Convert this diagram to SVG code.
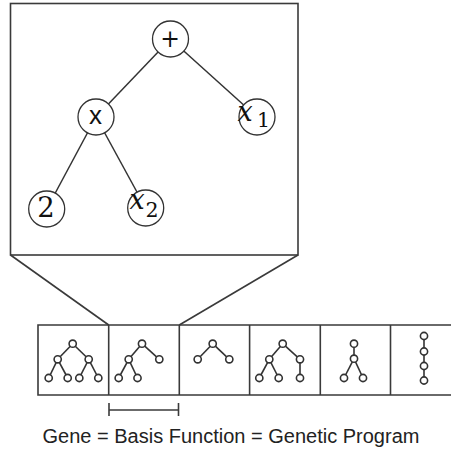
<svg xmlns="http://www.w3.org/2000/svg" width="451" height="450" viewBox="0 0 451 450">
<style>
.frame{fill:none;stroke:#3a3a3a;stroke-width:1.6}
.edge{stroke:#333;stroke-width:1.5;fill:none}
.node{fill:#fff;stroke:#333;stroke-width:1.3}
.sn{fill:#fff;stroke:#333;stroke-width:1.6}
.se{stroke:#333;stroke-width:1.6}
.lbl{font-family:"DejaVu Serif","Liberation Serif",serif;fill:#111}
.cap{font-family:"Liberation Sans",Arial,sans-serif;font-size:20px;fill:#222}
</style>
<g id="zoom-box">
<rect class="frame" x="10.5" y="3.5" width="287.5" height="251.5"/>
<line class="frame" x1="10.5" y1="255" x2="108.7" y2="325"/>
<line class="frame" x1="298" y1="255" x2="179.3" y2="325"/>
</g>
<g id="connectors">
<line class="edge" x1="170.5" y1="39" x2="96" y2="117"/>
<line class="edge" x1="170.5" y1="39" x2="257" y2="117"/>
<line class="edge" x1="96" y1="117" x2="46.7" y2="209"/>
<line class="edge" x1="96" y1="117" x2="145.7" y2="208"/>
</g>
<g id="node-plus">
<circle class="node" cx="170.5" cy="39" r="18"/>
<text class="lbl" x="170" y="46.7" font-size="23.5" text-anchor="middle">+</text>
</g>
<g id="node-times">
<circle class="node" cx="96" cy="117" r="18"/>
<text x="95.5" y="124" font-size="26" text-anchor="middle" font-family="Liberation Sans, Arial, sans-serif" fill="#111">x</text>
</g>
<g id="node-x1">
<circle class="node" cx="257" cy="117" r="18"/>
<text class="lbl" x="237.5" y="120.7" font-size="27" font-style="italic">x</text>
<text class="lbl" x="257" y="126.7" font-size="20.5">1</text>
</g>
<g id="node-2">
<circle class="node" cx="46.7" cy="209" r="18"/>
<text class="lbl" x="46" y="217" font-size="27.5" text-anchor="middle">2</text>
</g>
<g id="node-x2">
<circle class="node" cx="145.7" cy="208" r="18"/>
<text class="lbl" x="129.5" y="209" font-size="27" font-style="italic">x</text>
<text class="lbl" x="145.5" y="217" font-size="20.5">2</text>
</g>
<g id="strip">
<path class="frame" d="M460 325 H38 V395 H460"/>
<line class="frame" x1="108.7" y1="325" x2="108.7" y2="395"/>
<line class="frame" x1="179.3" y1="325" x2="179.3" y2="395"/>
<line class="frame" x1="249.6" y1="325" x2="249.6" y2="395"/>
<line class="frame" x1="320.3" y1="325" x2="320.3" y2="395"/>
<line class="frame" x1="390.5" y1="325" x2="390.5" y2="395"/>
</g>
<g id="tree1">
<line class="se" x1="72.7" y1="343.7" x2="57.7" y2="359.3"/>
<line class="se" x1="72.7" y1="343.7" x2="88.7" y2="359.3"/>
<line class="se" x1="57.7" y1="359.3" x2="48.7" y2="378"/>
<line class="se" x1="57.7" y1="359.3" x2="67.7" y2="378"/>
<line class="se" x1="88.7" y1="359.3" x2="79.3" y2="378"/>
<line class="se" x1="88.7" y1="359.3" x2="98.3" y2="378"/>
<circle class="sn" cx="72.7" cy="343.7" r="3.6"/>
<circle class="sn" cx="57.7" cy="359.3" r="3.6"/>
<circle class="sn" cx="88.7" cy="359.3" r="3.6"/>
<circle class="sn" cx="48.7" cy="378" r="3.6"/>
<circle class="sn" cx="67.7" cy="378" r="3.6"/>
<circle class="sn" cx="79.3" cy="378" r="3.6"/>
<circle class="sn" cx="98.3" cy="378" r="3.6"/>
</g>
<g id="tree2">
<line class="se" x1="142" y1="343.7" x2="128.7" y2="359.3"/>
<line class="se" x1="142" y1="343.7" x2="159.3" y2="359.3"/>
<line class="se" x1="128.7" y1="359.3" x2="118.7" y2="378"/>
<line class="se" x1="128.7" y1="359.3" x2="137.5" y2="378"/>
<circle class="sn" cx="142" cy="343.7" r="3.6"/>
<circle class="sn" cx="128.7" cy="359.3" r="3.6"/>
<circle class="sn" cx="159.3" cy="359.3" r="3.6"/>
<circle class="sn" cx="118.7" cy="378" r="3.6"/>
<circle class="sn" cx="137.5" cy="378" r="3.6"/>
</g>
<g id="tree3">
<line class="se" x1="212.7" y1="343.7" x2="197.7" y2="359.3"/>
<line class="se" x1="212.7" y1="343.7" x2="229.3" y2="359.3"/>
<circle class="sn" cx="212.7" cy="343.7" r="3.6"/>
<circle class="sn" cx="197.7" cy="359.3" r="3.6"/>
<circle class="sn" cx="229.3" cy="359.3" r="3.6"/>
</g>
<g id="tree4">
<line class="se" x1="282.7" y1="343.7" x2="269.3" y2="359.3"/>
<line class="se" x1="282.7" y1="343.7" x2="300" y2="359.3"/>
<line class="se" x1="269.3" y1="359.3" x2="259.3" y2="378"/>
<line class="se" x1="269.3" y1="359.3" x2="278.7" y2="378"/>
<line class="se" x1="300" y1="359.3" x2="300" y2="378"/>
<circle class="sn" cx="282.7" cy="343.7" r="3.6"/>
<circle class="sn" cx="269.3" cy="359.3" r="3.6"/>
<circle class="sn" cx="300" cy="359.3" r="3.6"/>
<circle class="sn" cx="259.3" cy="378" r="3.6"/>
<circle class="sn" cx="278.7" cy="378" r="3.6"/>
<circle class="sn" cx="300" cy="378" r="3.6"/>
</g>
<g id="tree5">
<line class="se" x1="354" y1="343.7" x2="354" y2="358.7"/>
<line class="se" x1="354" y1="358.7" x2="344" y2="378"/>
<line class="se" x1="354" y1="358.7" x2="363" y2="378"/>
<circle class="sn" cx="354" cy="343.7" r="3.6"/>
<circle class="sn" cx="354" cy="358.7" r="3.6"/>
<circle class="sn" cx="344" cy="378" r="3.6"/>
<circle class="sn" cx="363" cy="378" r="3.6"/>
</g>
<g id="tree6">
<line class="se" x1="424" y1="336" x2="424" y2="380"/>
<circle class="sn" cx="424" cy="336" r="3.6"/>
<circle class="sn" cx="424" cy="351.5" r="3.6"/>
<circle class="sn" cx="424" cy="366" r="3.6"/>
<circle class="sn" cx="424" cy="380.5" r="3.6"/>
</g>
<g id="scale-bar">
<line class="frame" x1="109" y1="410" x2="178.5" y2="410"/>
<line class="frame" x1="109" y1="403" x2="109" y2="416"/>
<line class="frame" x1="178.5" y1="403" x2="178.5" y2="416"/>
</g>
<g id="caption">
<text class="cap" x="231" y="442.7" text-anchor="middle">Gene = Basis Function = Genetic Program</text>
</g>
</svg>
